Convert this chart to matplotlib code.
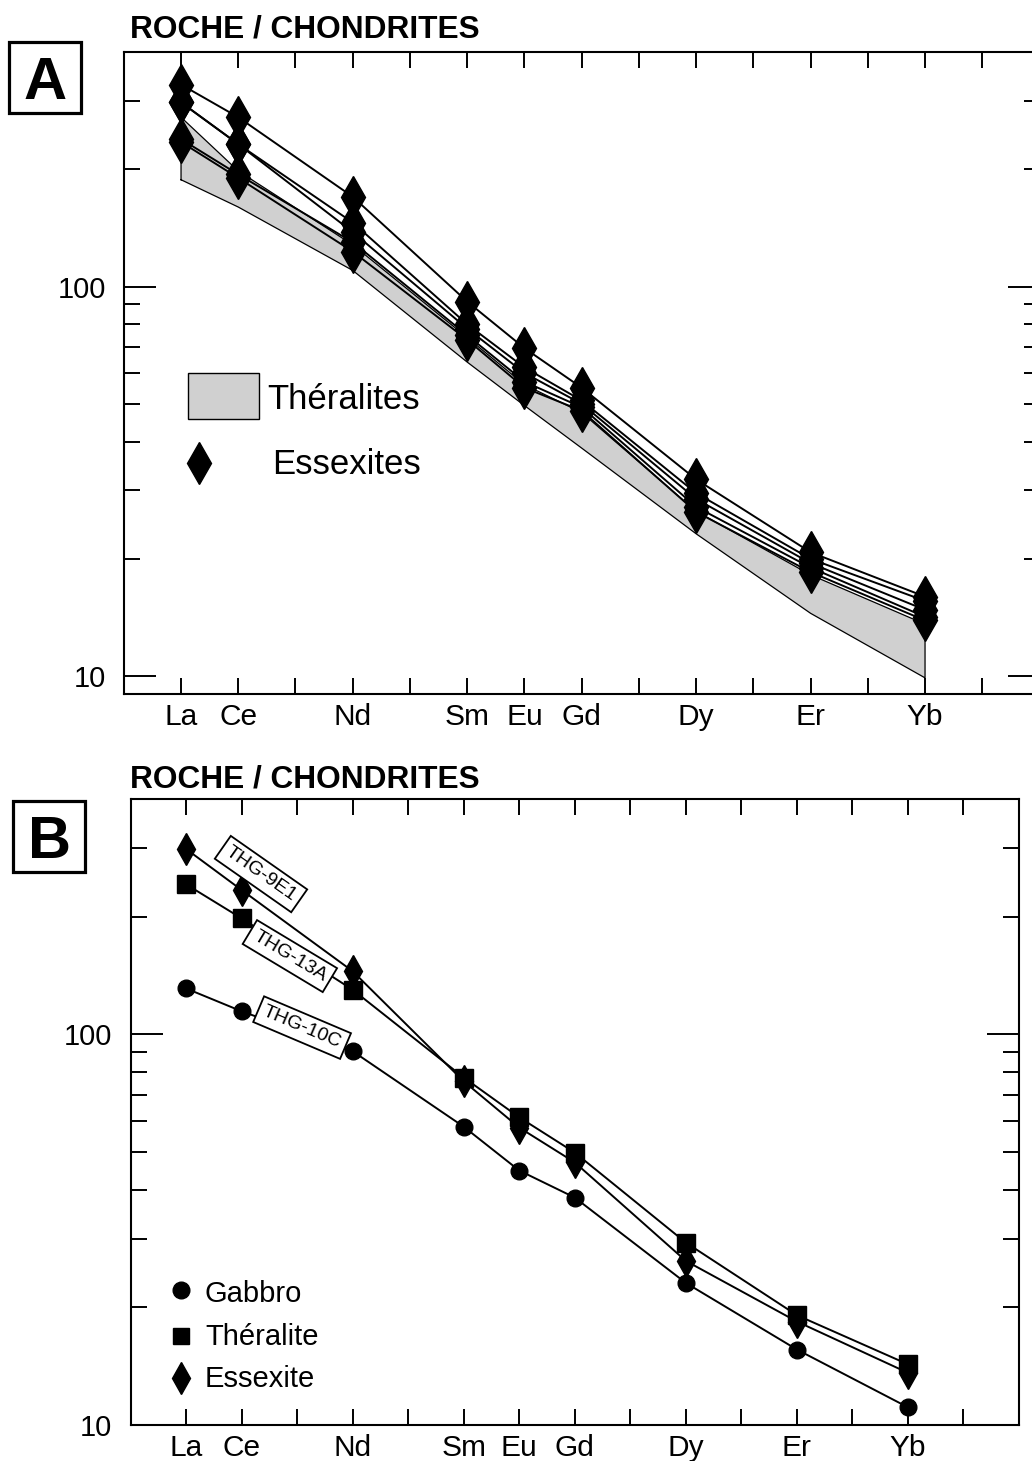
import numpy as np
import matplotlib.pyplot as plt
from matplotlib.patches import Rectangle
from matplotlib.ticker import FixedLocator, LogLocator, NullFormatter, FixedFormatter

plt.rcParams['font.family'] = ['Liberation Sans', 'DejaVu Sans']

# rare earth elements (atomic number used as x position)
ree = ['La', 'Ce', 'Nd', 'Sm', 'Eu', 'Gd', 'Dy', 'Er', 'Yb']
ree_z = [57, 58, 60, 62, 63, 64, 66, 68, 70]

# panel A : theralite field (lower / upper envelope)
ther_min = [188, 160, 110, 64, 49.5, 38.5, 23.2, 14.5, 9.9]
ther_max = [272, 198, 128, 74, 56, 47.5, 26.5, 18.2, 13.6]

# panel A : essexites
ess1 = [330, 272, 170, 91.5, 69.5, 55, 32.0, 20.8, 16.0]
ess2 = [297, 232, 146, 80, 62, 51, 29.5, 20.0, 15.6]
ess3 = [297, 232, 138, 78, 60, 50, 28.5, 19.5, 14.8]
ess4 = [239, 194, 130, 75, 57, 49, 27.2, 19.0, 14.2]
ess5 = [235, 190, 123, 73, 55, 48, 26.4, 18.5, 13.9]
essexites = [ess1, ess2, ess3, ess4, ess5]

# panel B : single samples
gabbro = [131, 114.5, 90.5, 58, 44.8, 38.2, 23.1, 15.6, 11.1]
theralite = [242, 198, 130, 77.5, 61.3, 49.8, 29.3, 19.1, 14.3]
essexite = [298, 234, 145, 75.8, 57.7, 47, 26.3, 18.4, 13.6]

# sample labels in panel B (text, x, y, angle)
lab_txt = ['THG-9E1', 'THG-13A', 'THG-10C']
lab_x = [58.35, 58.87, 59.09]
lab_y = [257, 158.5, 104]
lab_rot = [-35, -31, -23]

tick_z = list(range(57, 72))
tick_lab = [ree[ree_z.index(z)] if z in ree_z else '' for z in tick_z]

W, H = 1032, 1461
fig = plt.figure(figsize=(W / 100, H / 100), dpi=100)

axA = fig.add_axes([123.8 / W, (H - 694) / H, 915.7 / W, 642 / H])
axB = fig.add_axes([130.5 / W, (H - 1425) / H, 888.5 / W, 626 / H])


def style(ax, ymin):
    ax.set_yscale('log')
    ax.set_xlim(56, 72)
    ax.set_ylim(ymin, 400)
    ax.xaxis.set_major_locator(FixedLocator(tick_z))
    ax.xaxis.set_major_formatter(FixedFormatter(tick_lab))
    ax.yaxis.set_major_locator(FixedLocator([10, 100]))
    ax.yaxis.set_major_formatter(FixedFormatter(['10', '100']))
    ax.yaxis.set_minor_locator(LogLocator(base=10, subs=np.arange(2, 10)))
    ax.yaxis.set_minor_formatter(NullFormatter())
    ax.tick_params(axis='x', which='major', direction='in', top=True, bottom=True,
                   length=11.5, width=1.4, labelsize=21.5, pad=6.5)
    ax.tick_params(axis='y', which='major', direction='in', left=True, right=True,
                   length=23, width=1.4, labelsize=21, pad=13)
    ax.tick_params(axis='y', which='minor', direction='in', left=True, right=True,
                   length=11.5, width=1.4)
    for s in ax.spines.values():
        s.set_linewidth(1.5)


style(axA, 9)
style(axB, 10)

# ---- panel A
axA.fill_between(ree_z, ther_min, ther_max, facecolor='#d0d0d0', edgecolor='none', zorder=1)
env_x = ree_z + ree_z[::-1] + [ree_z[0]]
env_y = ther_min + ther_max[::-1] + [ther_min[0]]
axA.plot(env_x, env_y, color='black', lw=0.9, zorder=2)
for e in essexites:
    axA.plot(ree_z, e, color='black', lw=1.4, marker='d', ms=21, zorder=3)

# legend A
axA.add_patch(Rectangle((0.0701, 0.4283), 0.0775, 0.0717, transform=axA.transAxes,
                        facecolor='#d0d0d0', edgecolor='black', lw=1.0))
axA.text(0.1564, 0.4439, 'Théralites', transform=axA.transAxes, fontsize=25, va='baseline')
axA.plot([0.0821], [0.3598], marker='d', ms=21, color='black', transform=axA.transAxes)
axA.text(0.1618, 0.3427, 'Essexites', transform=axA.transAxes, fontsize=25, va='baseline')

# ---- panel B
axB.plot(ree_z, gabbro, color='black', lw=1.4, marker='o', ms=12, zorder=3)
axB.plot(ree_z, theralite, color='black', lw=1.4, marker='s', ms=12.5, zorder=3)
axB.plot(ree_z, essexite, color='black', lw=1.4, marker='d', ms=16, zorder=3)
for t, x, y, r in zip(lab_txt, lab_x, lab_y, lab_rot):
    axB.text(x, y, t, fontsize=14, rotation=r, rotation_mode='anchor', ha='center', va='center',
             bbox=dict(boxstyle='square,pad=0.28', facecolor='white', edgecolor='black', lw=1.3),
             zorder=4)

# legend B
axB.plot([0.0568], [0.2157], marker='o', ms=12, color='black', transform=axB.transAxes)
axB.plot([0.0568], [0.1422], marker='s', ms=12, color='black', transform=axB.transAxes)
axB.plot([0.0568], [0.0751], marker='d', ms=16, color='black', transform=axB.transAxes)
axB.text(0.0838, 0.1965, 'Gabbro', transform=axB.transAxes, fontsize=21, va='baseline')
axB.text(0.0838, 0.1278, 'Théralite', transform=axB.transAxes, fontsize=21, va='baseline')
axB.text(0.0838, 0.0607, 'Essexite', transform=axB.transAxes, fontsize=21, va='baseline')

# titles and panel letters
for base in (38, 788):
    fig.text(130 / W, 1 - base / H, 'ROCHE / CHONDRITES', fontsize=22.8, fontweight='bold',
             va='baseline', ha='left')

for letter, x0, y0 in (('A', 9, 42), ('B', 13, 801)):
    fig.patches.append(Rectangle((x0 / W, 1 - (y0 + 71) / H), 72 / W, 71 / H,
                                 transform=fig.transFigure, facecolor='none',
                                 edgecolor='black', lw=2.3))
    fig.text((x0 + 36) / W, 1 - (y0 + 35.5) / H, letter, fontsize=43, fontweight='bold',
             ha='center', va='center_baseline')

fig.savefig('out.png', dpi=100)
